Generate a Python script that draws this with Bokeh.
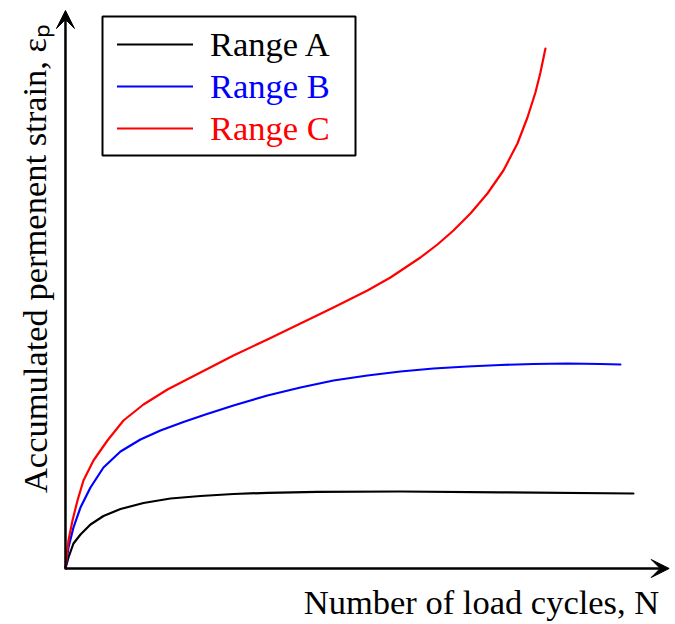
from bokeh.plotting import figure
from bokeh.models import Range1d, Arrow, VeeHead, Label, Legend, LegendItem, BoxAnnotation
from bokeh.embed import file_html
from bokeh.resources import INLINE

# Number of load cycles (arbitrary units) and accumulated permanent strain
n_a = [0, 0.52, 1.39, 2.61, 4.35, 6.61, 9.57, 13.57, 18.26, 23.48, 29.22, 35.13,
       43.83, 58.26, 75.65, 98.78]
eps_a = [0, 2.2, 5.0, 6.8, 8.8, 10.5, 11.9, 13.1, 14.0, 14.5, 14.9, 15.14,
         15.34, 15.4, 15.24, 15.0]

n_b = [0, 0.52, 1.39, 2.61, 4.35, 6.61, 9.57, 13.04, 16.52, 20.52, 24.35, 29.22,
       35.13, 40.87, 46.61, 52.52, 58.26, 64.0, 69.91, 75.65, 81.39, 87.30, 93.04, 96.52]
eps_b = [0, 4.2, 8.2, 12.2, 16.2, 20.2, 23.4, 25.8, 27.6, 29.3, 30.8, 32.6,
         34.6, 36.2, 37.6, 38.6, 39.4, 40.0, 40.4, 40.7, 40.9, 41.0, 40.9, 40.8]

n_c = [0, 0.52, 1.22, 2.09, 3.13, 4.87, 7.30, 10.09, 13.57, 17.74, 23.48,
       29.22, 35.13, 40.87, 46.61, 52.52, 56.52, 61.74, 64.70, 67.48, 70.43, 73.39,
       76.17, 78.61, 80.35, 81.74, 82.61, 83.48]
eps_c = [0, 5.6, 9.6, 13.6, 17.6, 21.6, 25.6, 29.6, 32.8, 35.8, 39.2,
         42.6, 45.8, 49.0, 52.2, 55.6, 58.2, 62.2, 64.8, 67.6, 71.0, 75.0,
         79.6, 85.0, 90.2, 95.2, 99.2, 104.0]

series_names = ["Range A", "Range B", "Range C"]
series_colors = ["#000000", "#0000ff", "#ff0000"]

FONT = "Liberation Serif"
FONT_SIZE = "34.5px"

p = figure(width=675, height=624, output_backend="svg", toolbar_location=None,
           x_range=Range1d(-11.3, 106.1), y_range=Range1d(-11.2, 113.6),
           min_border=0, x_axis_type=None, y_axis_type=None)
p.grid.visible = False
p.outline_line_color = None
p.background_fill_color = "white"

renderers = []
for xs, ys, col in zip([n_a, n_b, n_c], [eps_a, eps_b, eps_c], series_colors):
    r = p.line(xs, ys, line_color=col, line_width=2.2, line_join="round", line_cap="round")
    renderers.append(r)

# Axes drawn as arrows from the origin
p.add_layout(Arrow(x_start=0, y_start=0, x_end=0, y_end=111.6, line_width=2.5,
                   line_color="black",
                   end=VeeHead(size=18, fill_color="black", line_color="black")))
p.add_layout(Arrow(x_start=0, y_start=0, x_end=105.0, y_end=0, line_width=2.5,
                   line_color="black",
                   end=VeeHead(size=18, fill_color="black", line_color="black")))

# Legend frame
p.add_layout(BoxAnnotation(left=102, right=355, top=608, bottom=469,
                           left_units="screen", right_units="screen",
                           top_units="screen", bottom_units="screen",
                           fill_alpha=0, line_color="black", line_alpha=1.0,
                           line_width=2))

# One legend per series so each label keeps its own colour
for i, (name, col, r) in enumerate(zip(series_names, series_colors, renderers)):
    lg = Legend(items=[LegendItem(label=name, renderers=[r])],
                location=(117, 560 - 42 * i),
                padding=0, spacing=0, margin=0,
                glyph_width=76, glyph_height=40, label_height=40,
                label_standoff=17,
                label_text_font=FONT, label_text_font_size=FONT_SIZE,
                label_text_color=col,
                border_line_alpha=0, background_fill_alpha=0)
    p.add_layout(lg)

p.add_layout(Label(x=481, y=23, x_units="screen", y_units="screen",
                   text="Number of load cycles, N", text_font=FONT,
                   text_font_size=FONT_SIZE, text_align="center",
                   text_baseline="alphabetic", text_color="black"))
p.add_layout(Label(x=34, y=366, x_units="screen", y_units="screen",
                   text="Accumulated permenent strain, \u03b5\u209a", text_font=FONT,
                   text_font_size=FONT_SIZE, text_align="center",
                   text_baseline="alphabetic", angle=1.5708, text_color="black"))

open("out.html", "w").write(file_html(p, INLINE))
